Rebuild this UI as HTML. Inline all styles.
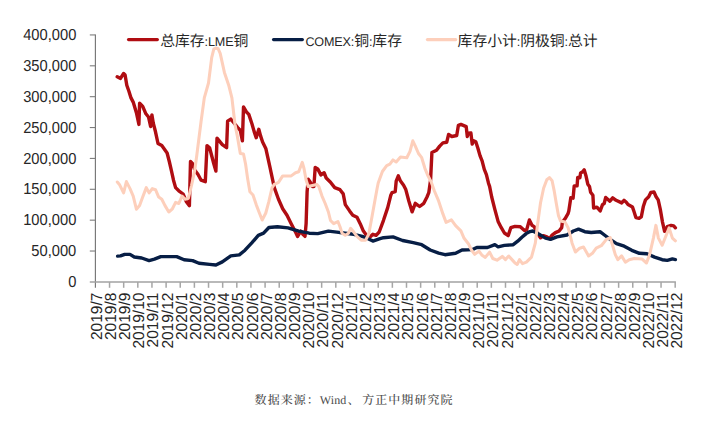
<!DOCTYPE html>
<html lang="zh"><head><meta charset="utf-8"><title>铜库存</title>
<style>
html,body{margin:0;padding:0;background:#fff;}
body{width:709px;height:424px;overflow:hidden;}
svg{display:block;}
text{text-rendering:geometricPrecision;}
.ax{font-family:"Liberation Sans","Noto Sans CJK SC",sans-serif;font-size:14.7px;fill:#262626;}
.lg{font-family:"Liberation Sans","Noto Sans CJK SC",sans-serif;font-size:14.8px;fill:#262626;}
.lt{font-size:12.6px;letter-spacing:-0.15px;}
.src{font-family:"Liberation Serif","Noto Serif CJK SC",serif;font-size:12px;font-weight:500;fill:#4a4a4a;letter-spacing:1.05px;}
</style></head><body>
<svg width="709" height="424" viewBox="0 0 709 424">
<rect width="709" height="424" fill="#ffffff"/>

<g fill="none">
<line x1="95.4" y1="34.4" x2="95.4" y2="287.8" stroke="#767676" stroke-width="1.15"/>
<line x1="89.8" y1="282" x2="675.9" y2="282" stroke="#a2a2a2" stroke-width="1.6"/>
<line x1="89.8" y1="251.03" x2="95.4" y2="251.03" stroke="#7c7c7c" stroke-width="1.1"/>
<line x1="89.8" y1="220.16" x2="95.4" y2="220.16" stroke="#7c7c7c" stroke-width="1.1"/>
<line x1="89.8" y1="189.29" x2="95.4" y2="189.29" stroke="#7c7c7c" stroke-width="1.1"/>
<line x1="89.8" y1="158.42" x2="95.4" y2="158.42" stroke="#7c7c7c" stroke-width="1.1"/>
<line x1="89.8" y1="127.55" x2="95.4" y2="127.55" stroke="#7c7c7c" stroke-width="1.1"/>
<line x1="89.8" y1="96.68" x2="95.4" y2="96.68" stroke="#7c7c7c" stroke-width="1.1"/>
<line x1="89.8" y1="65.81" x2="95.4" y2="65.81" stroke="#7c7c7c" stroke-width="1.1"/>
<line x1="89.8" y1="34.94" x2="95.4" y2="34.94" stroke="#7c7c7c" stroke-width="1.1"/>
<line x1="109.54" y1="282" x2="109.54" y2="287.8" stroke="#a6a6a6" stroke-width="1.5"/>
<line x1="123.68" y1="282" x2="123.68" y2="287.8" stroke="#a6a6a6" stroke-width="1.5"/>
<line x1="137.82" y1="282" x2="137.82" y2="287.8" stroke="#a6a6a6" stroke-width="1.5"/>
<line x1="151.96" y1="282" x2="151.96" y2="287.8" stroke="#a6a6a6" stroke-width="1.5"/>
<line x1="166.11" y1="282" x2="166.11" y2="287.8" stroke="#a6a6a6" stroke-width="1.5"/>
<line x1="180.25" y1="282" x2="180.25" y2="287.8" stroke="#a6a6a6" stroke-width="1.5"/>
<line x1="194.39" y1="282" x2="194.39" y2="287.8" stroke="#a6a6a6" stroke-width="1.5"/>
<line x1="208.53" y1="282" x2="208.53" y2="287.8" stroke="#a6a6a6" stroke-width="1.5"/>
<line x1="222.67" y1="282" x2="222.67" y2="287.8" stroke="#a6a6a6" stroke-width="1.5"/>
<line x1="236.81" y1="282" x2="236.81" y2="287.8" stroke="#a6a6a6" stroke-width="1.5"/>
<line x1="250.95" y1="282" x2="250.95" y2="287.8" stroke="#a6a6a6" stroke-width="1.5"/>
<line x1="265.09" y1="282" x2="265.09" y2="287.8" stroke="#a6a6a6" stroke-width="1.5"/>
<line x1="279.23" y1="282" x2="279.23" y2="287.8" stroke="#a6a6a6" stroke-width="1.5"/>
<line x1="293.37" y1="282" x2="293.37" y2="287.8" stroke="#a6a6a6" stroke-width="1.5"/>
<line x1="307.51" y1="282" x2="307.51" y2="287.8" stroke="#a6a6a6" stroke-width="1.5"/>
<line x1="321.66" y1="282" x2="321.66" y2="287.8" stroke="#a6a6a6" stroke-width="1.5"/>
<line x1="335.80" y1="282" x2="335.80" y2="287.8" stroke="#a6a6a6" stroke-width="1.5"/>
<line x1="349.94" y1="282" x2="349.94" y2="287.8" stroke="#a6a6a6" stroke-width="1.5"/>
<line x1="364.08" y1="282" x2="364.08" y2="287.8" stroke="#a6a6a6" stroke-width="1.5"/>
<line x1="378.22" y1="282" x2="378.22" y2="287.8" stroke="#a6a6a6" stroke-width="1.5"/>
<line x1="392.36" y1="282" x2="392.36" y2="287.8" stroke="#a6a6a6" stroke-width="1.5"/>
<line x1="406.50" y1="282" x2="406.50" y2="287.8" stroke="#a6a6a6" stroke-width="1.5"/>
<line x1="420.64" y1="282" x2="420.64" y2="287.8" stroke="#a6a6a6" stroke-width="1.5"/>
<line x1="434.78" y1="282" x2="434.78" y2="287.8" stroke="#a6a6a6" stroke-width="1.5"/>
<line x1="448.92" y1="282" x2="448.92" y2="287.8" stroke="#a6a6a6" stroke-width="1.5"/>
<line x1="463.07" y1="282" x2="463.07" y2="287.8" stroke="#a6a6a6" stroke-width="1.5"/>
<line x1="477.21" y1="282" x2="477.21" y2="287.8" stroke="#a6a6a6" stroke-width="1.5"/>
<line x1="491.35" y1="282" x2="491.35" y2="287.8" stroke="#a6a6a6" stroke-width="1.5"/>
<line x1="505.49" y1="282" x2="505.49" y2="287.8" stroke="#a6a6a6" stroke-width="1.5"/>
<line x1="519.63" y1="282" x2="519.63" y2="287.8" stroke="#a6a6a6" stroke-width="1.5"/>
<line x1="533.77" y1="282" x2="533.77" y2="287.8" stroke="#a6a6a6" stroke-width="1.5"/>
<line x1="547.91" y1="282" x2="547.91" y2="287.8" stroke="#a6a6a6" stroke-width="1.5"/>
<line x1="562.05" y1="282" x2="562.05" y2="287.8" stroke="#a6a6a6" stroke-width="1.5"/>
<line x1="576.19" y1="282" x2="576.19" y2="287.8" stroke="#a6a6a6" stroke-width="1.5"/>
<line x1="590.34" y1="282" x2="590.34" y2="287.8" stroke="#a6a6a6" stroke-width="1.5"/>
<line x1="604.48" y1="282" x2="604.48" y2="287.8" stroke="#a6a6a6" stroke-width="1.5"/>
<line x1="618.62" y1="282" x2="618.62" y2="287.8" stroke="#a6a6a6" stroke-width="1.5"/>
<line x1="632.76" y1="282" x2="632.76" y2="287.8" stroke="#a6a6a6" stroke-width="1.5"/>
<line x1="646.90" y1="282" x2="646.90" y2="287.8" stroke="#a6a6a6" stroke-width="1.5"/>
<line x1="661.04" y1="282" x2="661.04" y2="287.8" stroke="#a6a6a6" stroke-width="1.5"/>
<line x1="675.18" y1="282" x2="675.18" y2="287.8" stroke="#a6a6a6" stroke-width="1.5"/>
</g>
<g class="ax" text-anchor="end">
<text transform="translate(76.3,287.10) scale(1,1.08)">0</text>
<text transform="translate(76.3,256.23) scale(1,1.08)">50,000</text>
<text transform="translate(76.3,225.36) scale(1,1.08)">100,000</text>
<text transform="translate(76.3,194.49) scale(1,1.08)">150,000</text>
<text transform="translate(76.3,163.62) scale(1,1.08)">200,000</text>
<text transform="translate(76.3,132.75) scale(1,1.08)">250,000</text>
<text transform="translate(76.3,101.88) scale(1,1.08)">300,000</text>
<text transform="translate(76.3,71.01) scale(1,1.08)">350,000</text>
<text transform="translate(76.3,40.14) scale(1,1.08)">400,000</text>
</g>
<g class="ax" text-anchor="end">
<text transform="translate(101.85,292.6) rotate(-90) scale(1.055,1.08)">2019/7</text>
<text transform="translate(116.01,292.6) rotate(-90) scale(1.055,1.08)">2019/8</text>
<text transform="translate(130.17,292.6) rotate(-90) scale(1.055,1.08)">2019/9</text>
<text transform="translate(144.33,292.6) rotate(-90) scale(1.055,1.08)">2019/10</text>
<text transform="translate(158.49,292.6) rotate(-90) scale(1.055,1.08)">2019/11</text>
<text transform="translate(172.66,292.6) rotate(-90) scale(1.055,1.08)">2019/12</text>
<text transform="translate(186.82,292.6) rotate(-90) scale(1.055,1.08)">2020/1</text>
<text transform="translate(200.98,292.6) rotate(-90) scale(1.055,1.08)">2020/2</text>
<text transform="translate(215.14,292.6) rotate(-90) scale(1.055,1.08)">2020/3</text>
<text transform="translate(229.30,292.6) rotate(-90) scale(1.055,1.08)">2020/4</text>
<text transform="translate(243.46,292.6) rotate(-90) scale(1.055,1.08)">2020/5</text>
<text transform="translate(257.62,292.6) rotate(-90) scale(1.055,1.08)">2020/6</text>
<text transform="translate(271.78,292.6) rotate(-90) scale(1.055,1.08)">2020/7</text>
<text transform="translate(285.94,292.6) rotate(-90) scale(1.055,1.08)">2020/8</text>
<text transform="translate(300.10,292.6) rotate(-90) scale(1.055,1.08)">2020/9</text>
<text transform="translate(314.26,292.6) rotate(-90) scale(1.055,1.08)">2020/10</text>
<text transform="translate(328.43,292.6) rotate(-90) scale(1.055,1.08)">2020/11</text>
<text transform="translate(342.59,292.6) rotate(-90) scale(1.055,1.08)">2020/12</text>
<text transform="translate(356.75,292.6) rotate(-90) scale(1.055,1.08)">2021/1</text>
<text transform="translate(370.91,292.6) rotate(-90) scale(1.055,1.08)">2021/2</text>
<text transform="translate(385.07,292.6) rotate(-90) scale(1.055,1.08)">2021/3</text>
<text transform="translate(399.23,292.6) rotate(-90) scale(1.055,1.08)">2021/4</text>
<text transform="translate(413.39,292.6) rotate(-90) scale(1.055,1.08)">2021/5</text>
<text transform="translate(427.55,292.6) rotate(-90) scale(1.055,1.08)">2021/6</text>
<text transform="translate(441.71,292.6) rotate(-90) scale(1.055,1.08)">2021/7</text>
<text transform="translate(455.87,292.6) rotate(-90) scale(1.055,1.08)">2021/8</text>
<text transform="translate(470.04,292.6) rotate(-90) scale(1.055,1.08)">2021/9</text>
<text transform="translate(484.20,292.6) rotate(-90) scale(1.055,1.08)">2021/10</text>
<text transform="translate(498.36,292.6) rotate(-90) scale(1.055,1.08)">2021/11</text>
<text transform="translate(512.52,292.6) rotate(-90) scale(1.055,1.08)">2021/12</text>
<text transform="translate(526.68,292.6) rotate(-90) scale(1.055,1.08)">2022/1</text>
<text transform="translate(540.84,292.6) rotate(-90) scale(1.055,1.08)">2022/2</text>
<text transform="translate(555.00,292.6) rotate(-90) scale(1.055,1.08)">2022/3</text>
<text transform="translate(569.16,292.6) rotate(-90) scale(1.055,1.08)">2022/4</text>
<text transform="translate(583.32,292.6) rotate(-90) scale(1.055,1.08)">2022/5</text>
<text transform="translate(597.49,292.6) rotate(-90) scale(1.055,1.08)">2022/6</text>
<text transform="translate(611.65,292.6) rotate(-90) scale(1.055,1.08)">2022/7</text>
<text transform="translate(625.81,292.6) rotate(-90) scale(1.055,1.08)">2022/8</text>
<text transform="translate(639.97,292.6) rotate(-90) scale(1.055,1.08)">2022/9</text>
<text transform="translate(654.13,292.6) rotate(-90) scale(1.055,1.08)">2022/10</text>
<text transform="translate(668.29,292.6) rotate(-90) scale(1.055,1.08)">2022/11</text>
<text transform="translate(682.45,292.6) rotate(-90) scale(1.055,1.08)">2022/12</text>
</g>
<g fill="none" stroke-width="3.4" stroke-linejoin="round" stroke-linecap="round">
<polyline stroke="#b00d12" points="117.2,76.8 120.5,78.4 123.6,73.5 125.1,75.0 126.8,85.2 129.0,91.5 131.0,97.9 133.2,102.1 136.4,112.7 138.9,124.4 139.6,103.2 142.7,106.4 145.9,113.8 148.5,117.0 150.6,126.5 151.9,114.9 153.3,123.3 155.5,131.8 158.0,143.5 161.8,145.6 167.1,153.0 169.3,161.5 171.4,170.6 173.5,180.2 175.6,187.6 178.8,190.8 183.1,194.0 186.2,201.4 189.4,205.6 190.5,161.5 192.6,163.7 194.7,170.0 197.9,174.3 201.1,180.2 205.3,181.7 207.0,145.6 209.6,147.7 213.8,163.7 215.9,171.1 217.0,138.2 222.3,144.6 226.6,147.7 227.6,121.2 230.8,119.1 236.1,125.5 238.2,128.2 240.3,130.3 242.4,140.9 243.5,107.0 246.7,112.3 248.8,114.4 252.0,124.0 254.1,131.4 256.2,137.7 258.8,129.3 260.5,135.6 262.6,142.0 265.8,148.4 267.9,157.9 270.0,167.4 271.1,172.7 274.3,187.6 278.5,199.3 282.7,208.8 287.0,215.2 291.2,223.7 295.5,232.1 297.6,236.4 300.8,231.1 302.9,234.3 305.0,236.4 306.1,223.7 307.1,191.8 308.2,179.1 310.3,182.3 312.4,186.5 313.9,186.5 315.2,167.4 317.7,168.9 320.9,174.9 324.1,172.7 326.2,178.0 330.5,182.3 334.7,187.6 340.0,189.7 343.2,193.9 345.3,204.6 349.6,210.9 352.8,215.2 357.0,217.3 360.2,223.7 363.4,231.1 366.5,235.3 370.8,236.4 372.9,234.3 376.1,235.3 379.2,232.0 383.5,220.3 387.7,207.6 390.9,194.9 392.0,192.7 395.2,191.7 396.2,181.1 398.3,175.8 400.5,181.1 403.6,185.3 405.8,189.6 408.9,201.2 412.1,211.8 415.3,203.3 419.6,206.5 423.8,203.3 427.0,197.0 428.8,192.7 430.6,180.0 431.9,152.6 436.5,150.3 439.7,146.1 442.9,142.9 446.7,142.3 448.6,134.4 451.8,136.5 456.7,135.5 458.4,125.3 460.9,124.4 466.2,126.6 467.3,136.5 468.4,133.3 470.9,132.9 472.2,144.0 473.7,140.8 475.8,141.8 477.9,148.2 480.0,155.6 482.1,160.9 484.3,169.4 486.4,174.7 488.5,183.2 489.6,186.4 491.7,197.0 494.9,209.7 498.1,221.4 501.3,227.7 504.4,233.0 508.2,235.6 510.8,227.7 515.0,226.4 520.3,226.8 524.5,230.6 526.7,229.6 529.4,220.0 532.0,225.3 534.1,226.6 537.0,232.6 540.5,237.8 543.3,235.6 546.9,236.8 549.7,238.7 551.8,235.4 555.4,232.6 558.9,231.2 561.7,227.6 562.4,222.0 565.3,218.4 568.0,213.7 568.8,211.0 570.8,197.8 573.1,198.2 574.2,186.0 577.1,185.9 577.7,177.4 579.9,177.8 580.6,172.9 582.7,171.8 584.2,169.8 586.1,176.3 587.8,184.2 589.5,186.5 590.6,192.2 592.9,195.2 593.6,208.0 596.9,207.1 600.2,211.0 602.5,204.6 604.2,203.5 605.7,197.4 609.9,201.2 612.7,197.8 616.1,200.3 621.7,202.9 624.0,200.3 626.3,202.3 628.0,204.6 632.5,207.1 634.0,211.5 635.9,217.5 639.1,218.3 641.3,216.8 643.4,206.2 645.5,199.9 648.7,196.7 650.8,192.4 654.0,192.0 656.1,196.7 658.2,199.9 660.3,209.4 662.5,222.1 664.6,231.3 667.3,226.7 671.1,225.4 673.7,225.9 675.4,227.8"/>
<polyline stroke="#071e45" points="117.6,256.1 120.5,255.9 124.7,254.4 130.0,254.4 134.3,257.0 141.7,258.0 149.1,260.6 154.4,259.1 160.8,256.6 176.7,256.6 184.1,259.7 192.6,260.6 199.0,263.3 209.6,264.4 215.9,265.0 222.3,261.9 230.8,255.9 239.3,254.9 245.0,250.2 252.0,242.7 258.3,235.3 263.6,233.2 268.9,227.5 277.4,226.8 288.0,227.9 298.7,231.1 309.3,233.2 317.7,233.6 328.4,231.1 336.8,232.1 345.3,233.2 353.8,234.3 362.3,236.4 368.7,238.9 372.9,241.1 379.3,238.9 383.5,237.7 393.0,236.9 402.6,240.5 413.2,242.6 421.7,244.7 430.2,250.0 438.7,253.2 445.0,254.7 455.6,253.2 462.0,250.0 472.6,249.6 476.8,247.5 487.5,247.5 494.9,244.7 498.1,246.8 504.4,245.4 513.2,244.7 517.7,241.2 521.9,237.3 526.2,233.6 530.0,231.6 532.8,231.0 539.1,234.3 545.5,238.1 550.5,239.4 556.9,236.8 567.0,235.0 573.4,231.0 578.5,229.2 584.8,231.7 591.2,232.5 600.0,231.7 605.1,235.5 610.2,239.4 616.5,243.7 624.2,246.2 631.8,250.3 639.4,253.3 647.0,253.8 654.6,257.1 662.2,259.7 667.3,260.4 672.4,258.9 675.4,259.6"/>
<polyline stroke="#fdcfbb" stroke-width="3.05" points="117.3,182.0 119.4,184.4 123.6,192.9 126.4,181.6 130.0,188.6 133.2,196.1 136.4,209.2 139.6,205.6 142.7,197.1 146.3,187.6 149.1,192.9 152.3,188.6 155.5,189.7 158.7,197.1 161.8,199.3 165.0,205.6 168.8,212.0 172.4,208.8 175.6,202.4 178.8,203.5 182.0,196.1 185.2,199.3 188.4,198.2 191.5,185.5 194.7,170.6 196.8,155.2 201.1,121.2 204.3,97.9 208.5,83.0 211.7,57.6 213.8,49.1 215.9,48.0 218.1,48.7 220.2,53.3 224.4,72.4 228.7,85.2 231.9,97.9 235.0,124.5 237.3,136.0 240.3,153.4 243.5,154.0 245.6,164.3 247.7,179.1 249.9,191.8 253.0,195.0 256.2,204.6 259.4,213.0 262.2,220.0 265.8,213.0 268.9,201.4 272.1,187.6 274.3,184.4 278.5,182.3 282.7,175.9 291.2,175.9 295.5,172.7 298.7,171.7 302.3,162.3 304.0,168.5 306.1,180.0 308.2,186.5 312.4,185.5 316.7,184.4 318.8,186.5 322.0,196.1 325.2,203.5 328.4,212.0 330.5,220.5 333.7,223.7 337.9,221.5 340.0,226.8 342.1,233.2 345.3,235.3 348.5,233.2 350.6,228.3 353.8,232.1 357.0,236.4 361.2,240.2 365.5,240.2 368.7,234.3 371.9,217.3 375.0,200.0 377.1,188.5 378.2,183.0 382.4,171.5 386.7,165.6 389.9,164.1 393.0,159.9 396.2,162.0 400.5,157.1 406.8,157.7 410.0,151.4 412.8,140.8 415.3,146.1 418.5,153.5 421.7,157.7 424.9,168.3 428.0,175.8 431.2,182.0 434.4,191.0 438.7,201.2 442.9,213.9 446.1,222.4 451.4,219.9 455.6,225.6 460.9,230.9 464.1,238.3 468.4,243.7 471.5,250.0 474.7,254.3 479.0,251.1 482.1,255.3 485.3,257.4 489.6,252.1 492.8,258.5 497.0,260.2 502.3,256.4 505.5,259.6 508.7,256.0 512.9,260.6 515.0,263.0 517.2,264.5 519.5,259.7 522.5,263.7 526.4,262.2 531.5,257.1 535.3,243.2 537.3,226.4 540.5,203.0 543.6,188.2 546.8,179.7 549.4,177.6 552.1,180.8 554.3,191.4 556.4,204.1 558.5,215.8 560.6,221.1 564.9,222.1 568.0,227.4 569.6,233.0 572.1,243.2 575.4,252.0 579.7,248.2 583.5,247.0 588.6,255.9 592.4,253.3 596.2,248.2 601.3,245.7 606.4,239.4 610.2,237.6 612.7,245.7 615.3,254.6 617.8,259.7 621.6,255.9 625.4,262.2 629.2,259.7 634.3,258.4 641.9,258.9 646.5,263.0 649.6,254.6 653.4,238.1 655.9,225.4 658.4,238.1 662.2,245.2 666.1,235.5 669.1,227.9 672.4,238.1 675.4,240.8"/>
</g>
<g stroke-width="3.1" fill="none" stroke-linecap="round">
<line x1="128.5" y1="39.6" x2="157.4" y2="39.6" stroke="#b00d12"/>
<line x1="273.5" y1="39.6" x2="302.4" y2="39.6" stroke="#071e45"/>
<line x1="427.4" y1="39.6" x2="455.7" y2="39.6" stroke="#fdcfbb"/>
</g>
<text class="lg" x="160.2" y="45.8">总库存<tspan class="lt">:LME</tspan>铜</text>
<text class="lg" x="305.4" y="45.8"><tspan class="lt">COMEX:</tspan>铜<tspan class="lt">:</tspan>库存</text>
<text class="lg" x="457.6" y="45.8">库存小计<tspan class="lt">:</tspan>阴极铜<tspan class="lt">:</tspan>总计</text>
<text class="src" x="254.6" y="403.8">数据来源：<tspan style="letter-spacing:0.1px">Win</tspan>d、<tspan x="362.2">方正中期研究院</tspan></text>
</svg>
</body></html>
